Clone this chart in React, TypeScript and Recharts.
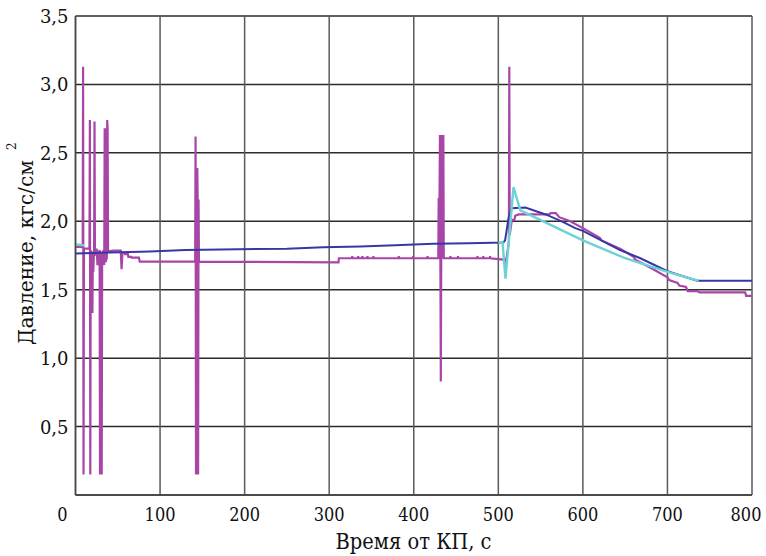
import React from "react";
import { LineChart, Line, XAxis, YAxis, CartesianGrid } from "recharts";

const xTicks = [0, 100, 200, 300, 400, 500, 600, 700, 800];
const yTicks = [0, 0.5, 1.0, 1.5, 2.0, 2.5, 3.0, 3.5];

const xTitle = "Время от КП, с";
const yTitle = "Давление, кгс/см";
const yTitleSup = "2";

// Magenta (noisy) pressure record: [time, pressure]
const magentaPts: [number, number][] = [
  [0, 1.81], [5, 1.815], [8.5, 1.81], [9, 3.13], [9.5, 0.15], [10, 1.8], [14, 1.8],
  [16.5, 1.8], [17, 2.74], [17.5, 0.15], [18, 1.79], [19, 1.62], [19.5, 1.74], [20, 1.33],
  [20.5, 1.78], [21, 1.63], [22, 1.8], [22.5, 2.73], [23, 1.75], [25, 1.8], [26, 1.68],
  [27, 1.76], [28.5, 1.79], [29, 0.15], [29.5, 1.78], [30.5, 1.7], [31, 0.15], [31.5, 1.72],
  [33, 1.79], [34, 1.68], [34.5, 2.68], [35, 1.7], [35.5, 2.68], [36, 1.7], [36.5, 2.68],
  [37, 1.72], [37.5, 2.74], [38, 2.68], [38.5, 1.78], [45, 1.785], [53.5, 1.785],
  [54.5, 1.65], [55.5, 1.77], [58, 1.77], [58.5, 1.76], [62, 1.76], [62.5, 1.74], [66, 1.74],
  [66.5, 1.735], [75, 1.735], [76, 1.705], [141.5, 1.705], [142, 2.62], [142.5, 0.15],
  [143, 2.39], [143.5, 1.34], [144, 2.39], [144.5, 2.16], [145, 0.15], [145.5, 2.16],
  [146, 1.705], [311, 1.7], [311.5, 1.73],
  [327, 1.73], [327.3, 1.745], [327.6, 1.73], [334, 1.73], [334.3, 1.745], [334.6, 1.73],
  [339, 1.73], [339.3, 1.745], [339.6, 1.73], [345, 1.73], [345.3, 1.745], [345.6, 1.73],
  [352, 1.73], [352.3, 1.745], [352.6, 1.73], [382, 1.73], [382.3, 1.745], [382.6, 1.73],
  [399, 1.73], [399.3, 1.745], [399.6, 1.73], [416, 1.73], [416.3, 1.745], [416.6, 1.73],
  [429, 1.73], [429.5, 2.17], [430, 1.73], [431, 2.63], [432, 0.83], [433, 2.63],
  [434, 1.73], [435, 2.63], [435.5, 1.73],
  [443, 1.73], [443.3, 1.745], [443.6, 1.73], [452, 1.73], [452.3, 1.745], [452.6, 1.73],
  [475, 1.73], [475.3, 1.745], [475.6, 1.73], [482, 1.73], [482.3, 1.745], [482.6, 1.73],
  [490, 1.73], [490.3, 1.745], [490.6, 1.73],
  [506, 1.72], [508, 1.7], [510, 1.74], [512.5, 1.85], [513, 3.13], [513.5, 1.9],
  [516, 2.01], [519, 2.01], [520, 2.04], [524, 2.05], [560, 2.05], [562, 2.06], [568, 2.06],
  [572, 2.03], [585, 2.0], [600, 1.95], [620, 1.88], [622, 1.86], [644, 1.8], [660, 1.74],
  [662, 1.72], [680, 1.66], [700, 1.59], [702, 1.57], [712, 1.55], [714, 1.53], [722, 1.52],
  [724, 1.49], [735, 1.49], [738, 1.48], [792, 1.48], [793, 1.455], [800, 1.455],
];

// Blue (smooth) pressure record
const bluePts: [number, number][] = [
  [0, 1.765], [30, 1.77], [88, 1.78], [130, 1.79], [250, 1.8], [293, 1.81], [337, 1.815],
  [378, 1.825], [423, 1.835], [465, 1.84], [506, 1.845], [508, 1.86], [512, 2.02],
  [515.5, 2.095], [532, 2.1], [556, 2.05], [575, 2.0], [591, 1.95], [600, 1.93],
  [644, 1.79], [668, 1.73], [700, 1.635], [735, 1.565], [800, 1.565],
];

// Cyan (model) pressure record; null breaks the line
const cyanPts: [number, number | null][] = [
  [0, 1.83], [10, 1.825], [10.5, null], [500, 1.845], [505, 1.845], [508.5, 1.58],
  [518, 2.25], [526, 2.08], [600, 1.86], [650, 1.73], [700, 1.63], [737, 1.565],
];

const toRows = (pts: [number, number | null][]) => pts.map(([x, y]) => ({ x, y }));
const magentaData = toRows(magentaPts);
const blueData = toRows(bluePts);
const cyanData = toRows(cyanPts);

const FONT = "DejaVu Serif";
const INK = "#111";

const fmtY = (v: number) => v.toFixed(1).replace(".", ",");
// approximate Times-like widths for the condensed look
const labelWidth = (s: string) =>
  s.split("").reduce((w, ch) => w + (ch === "," ? 5 : 10.3), 0);

const XTick = (props: any) => {
  const { x, y, payload } = props;
  const s = String(payload.value);
  const shift = payload.value === 0 ? -13 : payload.value === 800 ? -6 : 0;
  return (
    <text
      x={x + shift}
      y={y + 26}
      textAnchor="middle"
      fontFamily={FONT}
      fontSize={19}
      fill={INK}
      textLength={labelWidth(s)}
      lengthAdjust="spacingAndGlyphs"
    >
      {s}
    </text>
  );
};

const YTick = (props: any) => {
  const { x, y, payload } = props;
  const v = payload.value;
  if (v === 0) return null;
  const s = fmtY(v);
  return (
    <text
      x={x - 7}
      y={y + 7}
      textAnchor="end"
      fontFamily={FONT}
      fontSize={19}
      fill={INK}
      textLength={labelWidth(s) + 3}
      lengthAdjust="spacingAndGlyphs"
    >
      {s}
    </text>
  );
};

const XTitle = () => (
  <text
    x={413.5}
    y={549}
    textAnchor="middle"
    fontFamily={FONT}
    fontSize={22}
    fill={INK}
    textLength={156}
    lengthAdjust="spacingAndGlyphs"
  >
    {xTitle}
  </text>
);

const YTitle = () => (
  <g transform="translate(33,345) rotate(-90)">
    <text
      x={0}
      y={0}
      textAnchor="start"
      fontFamily={FONT}
      fontSize={21}
      fill={INK}
      textLength={185}
      lengthAdjust="spacingAndGlyphs"
    >
      {yTitle}
    </text>
    <text x={195} y={-17} textAnchor="start" fontFamily={FONT} fontSize={12} fill={INK}>
      {yTitleSup}
    </text>
  </g>
);

export default function App() {
  return (
    <div style={{ position: "absolute", left: 0, top: 0, width: 766, height: 556, background: "#fff" }}>
      <LineChart width={766} height={556} margin={{ top: 16, right: 14, bottom: 0, left: 0 }}>
        <CartesianGrid horizontal={true} vertical={false} stroke="#2b2b2b" strokeWidth={1.5} />
        <CartesianGrid horizontal={false} vertical={true} stroke="#5a5a5a" strokeWidth={1.5} />
        <XAxis
          dataKey="x"
          type="number"
          domain={[0, 800]}
          ticks={xTicks}
          allowDataOverflow
          height={61}
          tickSize={0}
          tickMargin={0}
          tickLine={false}
          axisLine={{ stroke: "#444", strokeWidth: 1.5 }}
          tick={<XTick />}
          label={{ content: () => <XTitle /> }}
        />
        <YAxis
          dataKey="y"
          type="number"
          domain={[0, 3.5]}
          ticks={yTicks}
          allowDataOverflow
          width={75.5}
          tickSize={0}
          tickMargin={0}
          tickLine={false}
          axisLine={{ stroke: "#444", strokeWidth: 1.5 }}
          tick={<YTick />}
          label={{ content: () => <YTitle /> }}
        />
        <Line data={magentaData} dataKey="y" type="linear" stroke="#a846a8" strokeWidth={2.2} dot={false} isAnimationActive={false} />
        <Line data={blueData} dataKey="y" type="linear" stroke="#3838a4" strokeWidth={2} dot={false} isAnimationActive={false} />
        <Line data={cyanData} dataKey="y" type="linear" stroke="#6dd2d4" strokeWidth={2.4} dot={false} connectNulls={false} isAnimationActive={false} />
      </LineChart>
    </div>
  );
}
